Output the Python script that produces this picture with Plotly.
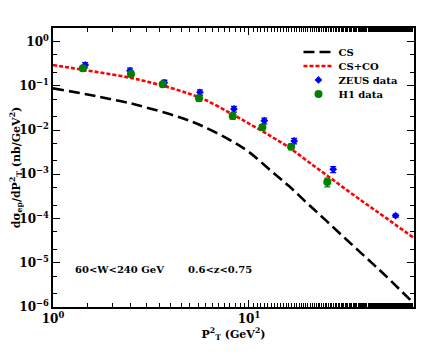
import plotly.graph_objects as go

# Theory curves
curve_x = [1.0, 1.5, 2.0, 2.5, 3.0, 4.0, 5.0, 6.0, 8.0, 10.0, 13.0, 16.0, 20.0, 25.0, 32.0, 40.0, 50.0, 69.0]
cs_y = [0.0875, 0.0634, 0.0489, 0.040, 0.0322, 0.0224, 0.0160, 0.0114, 0.00594, 0.00318, 0.00118,
        5.4e-4, 2.13e-4, 8.6e-5, 3.1e-5, 1.25e-5, 5.0e-6, 1.23e-6]
csco_y = [0.294, 0.221, 0.180, 0.150, 0.125, 0.089, 0.065, 0.0476, 0.0242, 0.0140, 0.00713,
          0.00402, 0.00194, 9.4e-4, 4.2e-4, 2.07e-4, 1.03e-4, 3.7e-5]

# ZEUS data
zeus_x = [1.46, 2.47, 3.70, 5.62, 8.38, 11.97, 17.0, 26.9, 56.0]
zeus_y = [0.294, 0.219, 0.117, 0.071, 0.0298, 0.0162, 0.00564, 0.00129, 1.16e-4]
zeus_err = [0.04, 0.03, 0.016, 0.01, 0.0045, 0.0024, 0.0008, 0.0002, 0.00001]

# H1 data
h1_x = [1.42, 2.50, 3.63, 5.56, 8.26, 11.7, 16.4, 25.1]
h1_y = [0.248, 0.184, 0.108, 0.052, 0.0207, 0.0115, 0.0042, 6.7e-4]
h1_err = [0.035, 0.025, 0.014, 0.007, 0.003, 0.0016, 0.0006, 0.00015]

y_tickvals = [1e-6, 1e-5, 1e-4, 1e-3, 1e-2, 1e-1, 1]
y_ticktext = ["<b>10<sup>\u22126</sup></b>", "<b>10<sup>\u22125</sup></b>", "<b>10<sup>\u22124</sup></b>",
              "<b>10<sup>\u22123</sup></b>", "<b>10<sup>\u22122</sup></b>", "<b>10<sup>\u22121</sup></b>",
              "<b>10<sup>0</sup></b>"]
x_tickvals = [1, 10]
x_ticktext = ["<b>10<sup>0</sup></b>", "<b>10<sup>1</sup></b>"]

FONT = "DejaVu Serif"

fig = go.Figure()
fig.add_trace(go.Scatter(x=curve_x, y=cs_y, mode="lines", name="<b>CS</b>", legend="legend",
                         showlegend=True,
                         line=dict(color="black", width=2.6, dash="11px,5px", shape="spline")))
fig.add_trace(go.Scatter(x=curve_x, y=csco_y, mode="lines", name="<b>CS+CO</b>", legend="legend2",
                         showlegend=True,
                         line=dict(color="#ff0000", width=2.6, dash="4px,2px", shape="spline")))
fig.add_trace(go.Scatter(x=zeus_x, y=zeus_y, mode="markers", name="<b>ZEUS data</b>", legend="legend3",
                         showlegend=True,
                         marker=dict(symbol="diamond", color="#0000ff", size=6),
                         error_y=dict(type="data", array=zeus_err, color="#0000ff", thickness=1.3, width=3)))
fig.add_trace(go.Scatter(x=h1_x, y=h1_y, mode="markers", name="<b>H1 data</b>", legend="legend4",
                         showlegend=True,
                         marker=dict(symbol="circle", color="#008000", size=8),
                         error_y=dict(type="data", array=h1_err, color="#008000", thickness=1.3, width=3)))

axis_common = dict(type="log", showgrid=False, zeroline=False, showline=True, linecolor="black",
                   linewidth=1.5, mirror="ticks", ticks="inside", ticklen=7, tickcolor="black",
                   tickwidth=1.2, automargin=False,
                   tickfont=dict(family=FONT, size=12, color="black"),
                   minor=dict(ticks="inside", ticklen=4, tickcolor="black", tickwidth=1, showgrid=False))

fig.update_xaxes(range=[0, 1.842], tickvals=x_tickvals, ticktext=x_ticktext,
                 title=dict(text="<b>P<sup>2</sup><sub>T</sub> (GeV<sup>2</sup>)</b>",
                            font=dict(family=FONT, size=11, color="black"), standoff=2),
                 **axis_common)
fig.update_yaxes(range=[-6, 0.305], tickvals=y_tickvals, ticktext=y_ticktext,
                 title=dict(text="<b>d\u03c3<sub>ep</sub>/dP<sup>2</sup><sub>T</sub> (nb/GeV<sup>2</sup>)</b>",
                            font=dict(family=FONT, size=11, color="black"), standoff=6),
                 **axis_common)

fig.add_annotation(x=0.055, y=0.133, xref="paper", yref="paper", showarrow=False,
                   xanchor="left", yanchor="middle",
                   text="<b>60&lt;W&lt;240 GeV</b>", font=dict(family=FONT, size=10, color="black"))
fig.add_annotation(x=0.368, y=0.133, xref="paper", yref="paper", showarrow=False,
                   xanchor="left", yanchor="middle",
                   text="<b>0.6&lt;z&lt;0.75</b>", font=dict(family=FONT, size=10, color="black"))

leg_common = dict(x=0.68, xanchor="left", yanchor="middle", bgcolor="rgba(0,0,0,0)",
                  font=dict(family=FONT, size=10, color="black"), itemwidth=30)

# page body adds an 8px offset, so the figure is sized to fit the visible window
fig.update_layout(
    width=428, height=346,
    margin=dict(l=45, r=22, t=20, b=47),
    paper_bgcolor="white", plot_bgcolor="white",
    font=dict(family=FONT, color="black"),
    showlegend=True,
    legend=dict(y=0.914, **leg_common),
    legend2=dict(y=0.864, **leg_common),
    legend3=dict(y=0.814, **leg_common),
    legend4=dict(y=0.763, **leg_common),
)

fig.write_html("out.html")
